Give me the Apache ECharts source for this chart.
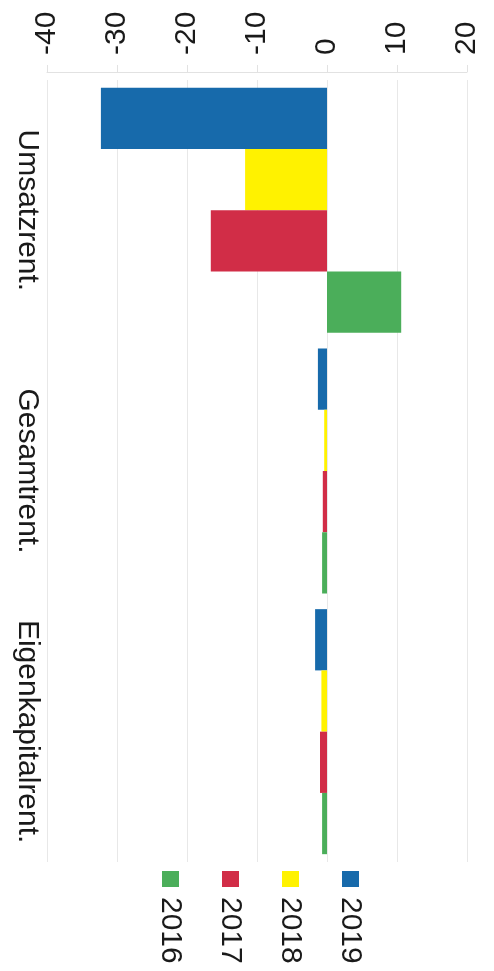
<!DOCTYPE html>
<html>
<head>
<meta charset="utf-8">
<script src="https://cdn.jsdelivr.net/npm/echarts@6/dist/echarts.min.js"></script>
<style>
html,body{margin:0;padding:0;background:#fff;}
#c{width:494px;height:971px;}
</style>
</head>
<body>
<div id="c"></div>
<script>
const categories = ['Umsatzrent.', 'Gesamtrent.', 'Eigenkapitalrent.'];
const years = ['2019', '2018', '2017', '2016'];
const v2019 = [-32.3, -1.3, -1.7];
const v2018 = [-11.7, -0.4, -0.8];
const v2017 = [-16.6, -0.6, -1.0];
const v2016 = [10.6, -0.7, -0.7];
const valueTicks = [-40, -30, -20, -10, 0, 10, 20];

const colors = {'2019': '#176aab', '2018': '#fff200', '2017': '#d12d47', '2016': '#4bae5a'};
const seriesValues = {'2019': v2019, '2018': v2018, '2017': v2017, '2016': v2016};
const FONT = "'Liberation Sans', Arial, sans-serif";

const chart = echarts.init(document.getElementById('c'), null, {renderer: 'canvas'});

const legendOrder = years.slice().reverse();
const legLeft = 162, legTop = 871, legPitch = 60, legIcon = 17;

const option = {
  backgroundColor: '#ffffff',
  animation: false,
  grid: {left: 47, right: 27, top: 80, bottom: 109, containLabel: false},
  xAxis: {
    type: 'value',
    position: 'top',
    offset: 8,
    min: valueTicks[0],
    max: valueTicks[valueTicks.length - 1],
    interval: 10,
    axisLine: {show: true, lineStyle: {color: '#e2e2e2', width: 1}},
    axisTick: {show: true, length: 7, lineStyle: {color: '#e2e2e2'}},
    splitLine: {show: true, lineStyle: {color: '#e8e8e8', width: 1}},
    axisLabel: {rotate: -90, margin: 17, fontSize: 30, color: '#1a1a1a', fontFamily: FONT}
  },
  yAxis: {
    type: 'category',
    inverse: true,
    data: categories,
    axisLine: {show: false},
    axisTick: {show: false},
    axisLabel: {rotate: -90, interval: 0, hideOverlap: false, margin: 5, fontSize: 30, color: '#1a1a1a', fontFamily: FONT}
  },
  legend: {
    data: legendOrder,
    orient: 'horizontal',
    left: legLeft,
    top: legTop,
    padding: 0,
    itemWidth: legIcon,
    itemHeight: 16,
    itemGap: legPitch - legIcon,
    icon: 'rect',
    formatter: function () { return ''; },
    selectedMode: false
  },
  graphic: legendOrder.map(function (y, i) {
    return {
      type: 'text',
      x: legLeft + legIcon / 2 + i * legPitch,
      y: 897,
      rotation: -Math.PI / 2,
      style: {text: y, fontSize: 30, fontFamily: FONT, fill: '#1a1a1a', textAlign: 'left', textVerticalAlign: 'middle'}
    };
  }),
  series: years.map(function (y) {
    return {
      name: y,
      type: 'bar',
      data: seriesValues[y],
      barGap: '0%',
      barCategoryGap: '6%',
      itemStyle: {color: colors[y]}
    };
  })
};
chart.setOption(option);
</script>
</body>
</html>
